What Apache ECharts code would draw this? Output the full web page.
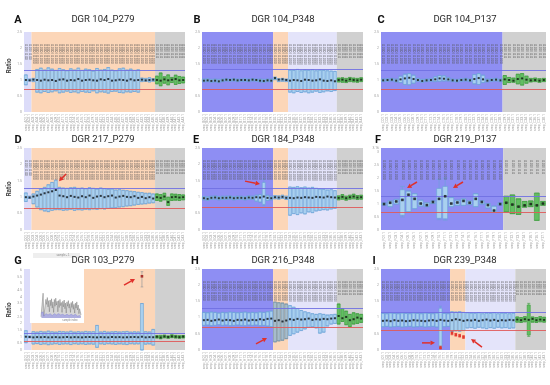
<!DOCTYPE html>
<html><head><meta charset="utf-8">
<script src="https://cdn.jsdelivr.net/npm/echarts@6/dist/echarts.min.js"></script>
<style>html,body{margin:0;padding:0;background:#fff}#c{width:550px;height:385px}</style>
</head><body><div id="c"></div>
<script>
// ---------------- DATA ----------------
const titles = ['DGR 104_P279','DGR 104_P348','DGR 104_P137','DGR 217_P279','DGR 184_P348','DGR 219_P137','DGR 103_P279','DGR 216_P348','DGR 239_P348'];
const letters = ['A','B','C','D','E','F','G','H','I'];
// region runs: lp = light purple, or = orange, bl = blue, lv = lavender, gr = gray
const A_regions = [['lp',2],['or',33],['gr',8]];
const B_regions = [['bl',19],['or',4],['lv',13],['gr',7]];
const C_regions = [['bl',28],['gr',10]];
const D_regions = [['lp',2],['or',33],['gr',8]];
const E_regions = [['bl',19],['or',4],['lv',13],['gr',7]];
const F_regions = [['bl',20],['gr',7]];
const G_regions = [['lp',2],['or',33],['gr',8]];
const H_regions = [['bl',19],['or',4],['lv',13],['gr',7]];
const I_regions = [['bl',18],['or',4],['lv',13],['gr',8]];

const A_med = [1.00,0.99, 1.01,1.00,0.98,1.01,0.99,1.00,0.97,1.01,1.02,0.98,1.00,0.99,1.03,0.98,1.00,1.01,0.99,0.98,1.02,1.00,1.03,0.98,0.99,1.01,1.00,0.98,1.02,0.99,1.00,1.01,0.99,1.00,1.01, 1.00,0.98,1.02,0.99,1.01,1.03,0.99,1.00];
const A_q3 = [1.16,1.03, 1.05,1.33,1.37,1.31,1.38,1.34,1.30,1.36,1.32,1.29,1.35,1.31,1.37,1.30,1.34,1.32,1.28,1.36,1.31,1.33,1.39,1.31,1.29,1.35,1.37,1.31,1.34,1.30,1.32,1.06,1.05,1.07,1.04, 1.12,1.22,1.10,1.16,1.08,1.15,1.11,1.09];
const A_q1 = [0.85,0.97, 0.95,0.62,0.60,0.64,0.61,0.63,0.66,0.60,0.62,0.65,0.61,0.63,0.60,0.64,0.62,0.61,0.66,0.60,0.63,0.62,0.59,0.64,0.65,0.61,0.60,0.63,0.62,0.64,0.62,0.95,0.96,0.94,0.96, 0.88,0.82,0.90,0.85,0.92,0.86,0.89,0.91];

const B_med = [0.98,0.99,0.97,0.98,0.96,0.99,1.01,1.00,1.01,0.99,1.00,1.00,0.99,1.01,1.00,0.98,0.97,0.99,0.98, 1.06,1.01,1.02,1.00, 0.98,1.00,0.99,0.97,1.01,1.00,0.98,0.99,1.02,0.98,0.97,0.99,0.96, 1.00,1.01,0.98,1.02,1.00,0.99,1.01];
const B_q3 = [1.03,1.04,1.02,1.03,1.02,1.03,1.04,1.03,1.04,1.03,1.03,1.04,1.03,1.04,1.03,1.03,1.02,1.03,1.03, 1.09,1.04,1.05,1.03, 1.31,1.30,1.33,1.29,1.31,1.30,1.32,1.29,1.31,1.30,1.29,1.28,1.27, 1.06,1.07,1.05,1.08,1.06,1.05,1.07];
const B_q1 = [0.94,0.95,0.93,0.94,0.92,0.95,0.97,0.96,0.97,0.95,0.96,0.96,0.95,0.97,0.96,0.94,0.93,0.95,0.94, 1.01,0.95,0.96,0.95, 0.62,0.60,0.64,0.61,0.63,0.60,0.62,0.65,0.61,0.63,0.66,0.64,0.67, 0.94,0.93,0.92,0.95,0.94,0.93,0.95];

const C_med = [0.99,1.00,1.01,0.98,1.02,1.05,1.07,1.03,1.00,0.97,0.99,1.00,1.02,1.05,1.04,1.02,0.99,0.98,1.00,1.01,0.99,1.03,1.06,1.02,0.98,1.00,1.01,0.99, 1.02,1.00,0.98,1.03,1.05,1.01,0.99,1.00,0.98,1.00];
const C_q3 = [1.03,1.04,1.05,1.03,1.12,1.18,1.20,1.15,1.05,1.02,1.03,1.04,1.10,1.14,1.13,1.08,1.03,1.02,1.04,1.05,1.03,1.17,1.20,1.15,1.03,1.04,1.05,1.03, 1.14,1.08,1.06,1.18,1.20,1.12,1.05,1.06,1.04,1.05];
const C_q1 = [0.95,0.96,0.97,0.94,0.92,0.86,0.85,0.90,0.96,0.93,0.95,0.96,0.95,0.96,0.97,0.97,0.95,0.94,0.96,0.97,0.95,0.88,0.86,0.92,0.94,0.96,0.97,0.95, 0.86,0.92,0.93,0.88,0.84,0.90,0.94,0.95,0.93,0.95];

const D_med = [1.00,0.99, 1.02,1.05,1.08,1.12,1.15,1.18,1.22,1.05,1.03,1.00,1.04,1.01,0.99,1.03,1.00,1.05,0.98,1.02,1.04,1.00,1.03,1.05,0.99,1.02,1.04,1.01,1.00,1.03,0.98,1.01,0.97,1.00,0.96, 1.00,0.98,1.02,0.85,1.00,1.01,0.99,1.00];
const D_q3 = [1.13,1.03, 1.10,1.18,1.25,1.30,1.38,1.45,1.52,1.30,1.28,1.27,1.29,1.30,1.27,1.28,1.26,1.29,1.27,1.25,1.28,1.26,1.24,1.25,1.22,1.23,1.21,1.20,1.18,1.17,1.15,1.14,1.12,1.12,1.10, 1.10,1.08,1.12,1.00,1.10,1.09,1.08,1.07];
const D_q1 = [0.87,0.96, 0.80,0.70,0.62,0.58,0.56,0.60,0.62,0.62,0.60,0.61,0.63,0.60,0.62,0.61,0.63,0.62,0.64,0.63,0.65,0.64,0.66,0.67,0.68,0.70,0.71,0.73,0.74,0.76,0.78,0.79,0.80,0.82,0.83, 0.90,0.88,0.92,0.75,0.90,0.91,0.90,0.92];

const E_med = [0.97,0.95,0.98,0.99,0.97,0.98,0.98,0.99,0.97,0.98,0.98,0.97,0.99,0.98,1.00,0.99,1.02,0.98,0.97, 1.00,0.99,1.01,0.98, 0.98,0.97,0.99,0.98,1.00,0.99,0.98,1.01,1.00,0.99,1.02,1.00,0.99, 0.98,1.01,0.97,1.00,1.02,0.99,1.00];
const E_q3 = [1.02,1.01,1.03,1.04,1.02,1.03,1.03,1.04,1.02,1.03,1.03,1.02,1.04,1.03,1.06,1.08,1.45,1.06,1.03, 1.05,1.04,1.06,1.03, 1.31,1.30,1.32,1.29,1.31,1.28,1.30,1.27,1.25,1.24,1.22,1.23,1.20, 1.04,1.08,1.03,1.06,1.09,1.05,1.06];
const E_q1 = [0.92,0.90,0.93,0.94,0.92,0.93,0.93,0.94,0.92,0.93,0.93,0.92,0.94,0.93,0.88,0.85,0.78,0.90,0.92, 0.95,0.94,0.96,0.93, 0.45,0.50,0.47,0.52,0.49,0.55,0.53,0.58,0.60,0.62,0.61,0.64,0.66, 0.92,0.94,0.91,0.94,0.95,0.93,0.94];

const F_med = [1.00,1.05,1.10,1.16,1.36,1.20,1.02,0.96,1.08,1.20,1.30,1.02,1.06,1.12,1.05,1.20,1.08,0.96,0.75,1.00, 1.05,0.98,0.90,0.95,1.00,0.95,1.02];
const F_q3 = [1.04,1.12,1.18,1.55,1.50,1.40,1.15,1.05,1.12,1.60,1.68,1.25,1.15,1.20,1.12,1.40,1.13,1.02,0.92,1.04, 1.30,1.35,1.20,1.10,1.12,1.42,1.10];
const F_q1 = [0.96,0.90,1.00,0.57,0.70,0.82,0.92,0.90,1.02,0.45,0.43,0.90,0.95,0.95,0.98,0.90,1.00,0.85,0.68,0.96, 0.70,0.63,0.60,0.88,0.90,0.37,0.95];

const G_med = [1.00,0.98, 0.95,0.97,0.96,0.98,0.95,0.96,0.97,0.95,0.96,0.98,0.95,0.97,0.96,0.95,0.97,0.98,0.96,0.95,0.97,0.96,0.95,0.98,0.96,0.97,0.95,0.96,0.97,0.98,0.96,1.00,0.95,0.97,0.96, 1.00,0.95,1.02,0.98,1.03,1.00,0.97,1.01];
const G_q3 = [1.45,1.05, 1.38,1.35,1.40,1.36,1.42,1.37,1.35,1.40,1.38,1.36,1.41,1.35,1.38,1.36,1.40,1.37,1.38,1.85,1.36,1.40,1.35,1.37,1.39,1.36,1.38,1.40,1.35,1.37,1.36,3.50,1.38,1.36,1.55, 1.08,1.10,1.12,1.06,1.14,1.10,1.08,1.09];
const G_q1 = [0.55,0.92, 0.45,0.48,0.42,0.46,0.40,0.44,0.47,0.42,0.45,0.46,0.41,0.47,0.44,0.46,0.42,0.45,0.44,0.20,0.46,0.43,0.47,0.45,0.42,0.46,0.44,0.41,0.47,0.45,0.46,0.00,0.44,0.46,0.37, 0.90,0.85,0.92,0.88,0.93,0.90,0.89,0.91];

const H_med = [0.92,0.93,0.90,0.92,0.94,0.91,0.93,0.92,0.90,0.93,0.92,0.94,0.91,0.93,0.92,0.95,0.93,0.96,0.97, 0.90,0.92,0.88,0.91, 0.95,0.93,0.96,0.94,0.95,0.97,0.93,0.95,0.94,0.96,0.95,0.97,0.98, 1.05,0.98,1.02,0.92,0.95,1.00,0.97];
const H_q3 = [1.16,1.15,1.17,1.16,1.14,1.16,1.15,1.17,1.16,1.15,1.16,1.17,1.15,1.16,1.15,1.17,1.16,1.18,1.20, 1.48,1.46,1.45,1.42, 1.37,1.32,1.28,1.22,1.18,1.15,1.12,1.10,1.12,1.10,1.08,1.09,1.10, 1.42,1.28,1.20,1.10,1.15,1.12,1.10];
const H_q1 = [0.76,0.77,0.75,0.76,0.78,0.76,0.77,0.75,0.76,0.77,0.76,0.75,0.77,0.76,0.77,0.75,0.76,0.74,0.72, 0.25,0.28,0.30,0.35, 0.45,0.50,0.55,0.60,0.65,0.70,0.72,0.68,0.52,0.55,0.74,0.80,0.82, 0.80,0.88,0.78,0.72,0.80,0.82,0.85];

const I_med = [0.90,0.91,0.89,0.92,0.90,0.91,0.89,0.90,0.92,0.91,0.90,0.89,0.91,0.92,0.90,0.93,0.91,0.90, 0.92,0.95,0.93,0.90, 0.92,0.91,0.93,0.90,0.92,0.94,0.91,0.93,0.90,0.92,0.91,0.93,0.92, 0.94,0.92,0.95,0.93,0.96,0.92,0.94,0.93];
const I_q3 = [1.13,1.12,1.14,1.13,1.12,1.14,1.13,1.12,1.14,1.13,1.12,1.14,1.13,1.12,1.14,1.29,1.13,1.12, 1.18,1.17,1.18,1.16, 1.15,1.14,1.13,1.15,1.12,1.14,1.13,1.15,1.12,1.14,1.13,1.12,1.14, 1.02,1.00,1.03,1.39,1.02,1.00,1.03,1.01];
const I_q1 = [0.72,0.73,0.71,0.72,0.73,0.71,0.72,0.73,0.71,0.72,0.73,0.71,0.72,0.73,0.71,0.10,0.72,0.73, 0.57,0.59,0.58,0.60, 0.68,0.69,0.67,0.70,0.68,0.66,0.69,0.67,0.70,0.68,0.69,0.67,0.68, 0.86,0.85,0.87,0.46,0.86,0.85,0.87,0.86];

// extended whiskers [category, low, high]
const E_whisk = [[16,0.74,1.55]];
const F_whisk = [[3,0.50,1.68],[9,0.40,1.95],[10,0.38,2.00]];
const I_whisk = [[15,0.06,1.35],[38,0.42,1.44]];
// flagged outlier samples [category, low, value, high]
const G_out = [[31,4.75,5.55,5.90]];
const I_out = [[15,0.03,0.07,0.12],[18,0.47,0.52,0.56],[19,0.43,0.47,0.51],[20,0.40,0.44,0.48],[21,0.36,0.40,0.44]];

const yMax = [2.5,2.5,2.5,2.5,2.5,3.16,6.1,2.5,2.5];
const upperLimit = [1.31,1.33,1.30,1.28,1.26,1.29,1.25,1.29,1.15];
const lowerLimit = [0.71,0.71,0.71,0.67,0.68,0.67,0.63,0.69,0.62];

const topLabelText = {lp:'0.00 | 0.00', or:'0.000 | 0.000', bl:'0.000 | 0.000', lv:'0.000 | 0.000 |', gr:'0.00 | 0.0'};

// inset (panel G) – sample-wise ratio trace
const insetTrace = [0.02,0.03,0.02,0.40,0.03,0.05,0.04, 0.30,0.22,0.33,0.18,0.28,0.10, 0.29,0.20,0.31,0.16,0.26,0.09, 0.30,0.19,0.32,0.21,0.27,0.10, 0.28,0.17,0.30,0.20,0.25,0.09, 0.27,0.18,0.29,0.15,0.24,0.08, 0.26,0.19,0.28,0.16,0.23,0.09, 0.25,0.17,0.27,0.14,0.22,0.08, 0.24,0.16,0.26,0.13,0.21,0.07, 0.15,0.10,0.05];
const insetBase = [0.08,0.06,0.07,0.10,0.03,0.04,0.03, 0.07,0.05,0.08,0.05,0.06,0.03, 0.07,0.05,0.08,0.04,0.06,0.03, 0.07,0.05,0.08,0.05,0.06,0.03, 0.07,0.04,0.07,0.05,0.06,0.03, 0.06,0.05,0.07,0.04,0.06,0.03, 0.06,0.05,0.07,0.04,0.05,0.03, 0.06,0.04,0.06,0.04,0.05,0.02, 0.06,0.04,0.06,0.03,0.05,0.02, 0.04,0.03,0.02];

// arrows in data space [panel, fromCat, fromVal, toCat, toVal]
const arrows = [[3,10.75,1.71,8.85,1.49],[4,10.98,1.49,14.99,1.40],[5,5.39,1.85,3.76,1.62],[5,12.92,1.85,11.28,1.62],[6,26.21,4.89,29.15,5.35],[7,13.92,0.19,16.86,0.37],[8,10.19,0.22,13.57,0.22],[8,25.82,0.09,22.96,0.34]];

// ---------------- LAYOUT / STYLE ----------------
const colLeft = [24,202,381], colWidth = [161,161,165];
const rowTop = [32,148,269], rowHeight = [80,82,81];
const titleX = [103,283,465];
const titleY = [20,140,261];
const letterX = [18,197,381,18,196,378,18,195,374];
const ratioY = [66,189,310];
const regionColor = {lp:'#dcdcf9', or:'#fcd6b8', bl:'#8e8ef3', lv:'#e4e4fa', gr:'#d0d0d0'};

const panels = [
 {key:'A', regions:A_regions, med:A_med, q1:A_q1, q3:A_q3, top:true},
 {key:'B', regions:B_regions, med:B_med, q1:B_q1, q3:B_q3, top:true},
 {key:'C', regions:C_regions, med:C_med, q1:C_q1, q3:C_q3, top:true},
 {key:'D', regions:D_regions, med:D_med, q1:D_q1, q3:D_q3, top:true},
 {key:'E', regions:E_regions, med:E_med, q1:E_q1, q3:E_q3, top:true, whisk:E_whisk},
 {key:'F', regions:F_regions, med:F_med, q1:F_q1, q3:F_q3, top:true, whisk:F_whisk},
 {key:'G', regions:G_regions, med:G_med, q1:G_q1, q3:G_q3, top:false, out:G_out, outColor:'#a8322d', outWhisker:'#999'},
 {key:'H', regions:H_regions, med:H_med, q1:H_q1, q3:H_q3, top:true},
 {key:'I', regions:I_regions, med:I_med, q1:I_q1, q3:I_q3, top:true, whisk:I_whisk, out:I_out, outColor:'#e2382f', outWhisker:'#e2382f'}
];

function expand(runs){ const o=[]; runs.forEach(([k,n])=>{ for(let j=0;j<n;j++) o.push(k); }); return o; }
function boxStyle(reg, key){
  if(reg==='gr') return {color:'#62be62', borderColor:'#3c9c3c', borderWidth:0.6};
  if(key==='H' && reg==='or') return {color:'#a6bccb', borderColor:'#6f8fa5', borderWidth:0.6};
  return {color:'#a9d0ef', borderColor:'#6aa3d6', borderWidth:0.6};
}

const option = {animation:false, textStyle:{fontFamily:'Roboto'}, grid:[], xAxis:[], yAxis:[], series:[], graphic:[]};
const topAxes = [], bandAxes = [];

panels.forEach((p,i)=>{
  const r = Math.floor(i/3), c = i%3;
  const reg = expand(p.regions);
  const n = reg.length;
  const cats = reg.map((_,k)=> p.key + String(k+1).padStart(2,'0'));
  const band = colWidth[c]/n;
  const bw = band*0.8;
  option.grid.push({left:colLeft[c], top:rowTop[r], width:colWidth[c], height:rowHeight[r]});
  option.xAxis.push({type:'category', gridIndex:i, data:cats, axisLine:{show:false}, axisTick:{show:false}, splitLine:{show:false},
    axisLabel:{rotate:90, interval:0, fontSize:3.4, color:'#9a9a9a', margin:2, formatter:(v)=>'smp_'+v+'.1'}});
  topAxes.push({type:'category', gridIndex:i, position:'top', data:cats, z:10, axisLine:{show:false}, axisTick:{show:false}, splitLine:{show:false},
    axisLabel:{show:p.top, inside:true, rotate:90, interval:0, fontSize:3.4, color:'#555', margin:12,
      formatter:(v,idx)=>topLabelText[reg[idx]]}});
  // hidden continuous axis spanning the category bands, used for the region shading
  bandAxes.push({type:'value', gridIndex:i, min:-0.5, max:n-0.5, show:false, splitLine:{show:false}});
  option.yAxis.push({type:'value', gridIndex:i, min:0, max:yMax[i], interval:0.5, splitLine:{show:false},
    axisLine:{show:false}, axisTick:{show:false}, axisLabel:{fontSize:3.4, color:'#9a9a9a', margin:2}});

  // region shading + threshold lines
  let start = 0;
  const areas = p.regions.map(([k,len])=>{
    const a = [{xAxis:start-0.5, itemStyle:{color:regionColor[k], opacity:1}}, {xAxis:start+len-0.5}];
    start += len; return a;
  });
  option.series.push({type:'line', xAxisIndex:19+i, yAxisIndex:i, silent:true, z:1, symbol:'none', data:[],
    markArea:{silent:true, data:areas},
    markLine:{silent:true, symbol:'none', label:{show:false}, animation:false,
      data:[{yAxis:upperLimit[i], lineStyle:{color:'#7070e2', width:0.9, type:'solid'}},
            {yAxis:lowerLimit[i], lineStyle:{color:'#e05a5a', width:0.9, type:'solid'}}]}});

  // boxes
  const wmap = {}; (p.whisk||[]).forEach(w=>{ wmap[w[0]] = w; });
  option.series.push({type:'boxplot', xAxisIndex:i, yAxisIndex:i, z:3, boxWidth:[bw,bw],
    data: reg.map((k,j)=>{
      const w = wmap[j];
      return {value:[w?w[1]:p.q1[j], p.q1[j], p.med[j], p.q3[j], w?w[2]:p.q3[j]], itemStyle:boxStyle(k,p.key)};
    })});

  // medians
  option.series.push({type:'scatter', xAxisIndex:i, yAxisIndex:i, z:5, symbol:'rect', symbolSize: n<30?2.6:2,
    itemStyle:{color:'#151515'}, data:p.med.map((v,j)=>[j,v])});

  // flagged samples
  if(p.out){
    const col = p.outColor, wcol = p.outWhisker;
    option.series.push({type:'custom', xAxisIndex:i, yAxisIndex:i, z:6, encode:{x:0, y:[1,2,3]}, data:p.out,
      renderItem:(params, api)=>{
        const x = api.value(0);
        const lo = api.coord([x, api.value(1)]), mid = api.coord([x, api.value(2)]), hi = api.coord([x, api.value(3)]);
        return {type:'group', children:[
          {type:'line', shape:{x1:lo[0],y1:lo[1],x2:hi[0],y2:hi[1]}, style:{stroke:wcol, lineWidth:0.7}},
          {type:'line', shape:{x1:lo[0]-1.3,y1:lo[1],x2:lo[0]+1.3,y2:lo[1]}, style:{stroke:wcol, lineWidth:0.7}},
          {type:'line', shape:{x1:hi[0]-1.3,y1:hi[1],x2:hi[0]+1.3,y2:hi[1]}, style:{stroke:wcol, lineWidth:0.7}},
          {type:'rect', shape:{x:mid[0]-1.3,y:mid[1]-1.3,width:2.6,height:2.6}, style:{fill:col}}
        ]};
      }});
  }

  // texts
  option.graphic.push({type:'text', x:titleX[c], y:titleY[r], z:50, style:{text:titles[i], fontFamily:'Roboto', fontSize:9.5, fill:'#2a2a2a', align:'center', verticalAlign:'middle'}});
  option.graphic.push({type:'text', x:letterX[i], y:titleY[r], z:50, style:{text:letters[i], fontFamily:'Roboto', fontWeight:'bold', fontSize:11, fill:'#111', align:'center', verticalAlign:'middle'}});
  if(c===0) option.graphic.push({type:'text', x:9, y:ratioY[r], rotation:Math.PI/2, z:50, style:{text:'Ratio', fontFamily:'Roboto', fontWeight:'bold', fontSize:6.5, fill:'#444', align:'center', verticalAlign:'middle'}});
});
topAxes.forEach(a=>option.xAxis.push(a));   // indices 9..17

// ---- inset in panel G ----
option.graphic.push({type:'rect', x:30, y:253, z:20, shape:{width:54, height:70}, style:{fill:'#ffffff'}});
option.graphic.push({type:'rect', x:33, y:253, z:20, shape:{width:47, height:5}, style:{fill:'#eeeeee'}});
option.graphic.push({type:'text', x:63, y:255.5, z:21, style:{text:'sample ▪ 1', fontSize:2.8, fill:'#888', align:'center', verticalAlign:'middle'}});
option.graphic.push({type:'text', x:70, y:320.5, z:21, style:{text:'sample index', fontSize:2.6, fill:'#888', align:'center', verticalAlign:'middle'}});
option.grid.push({left:41, top:256, width:40, height:62});
const insetCats = insetTrace.map((_,k)=>String(k));
option.xAxis.push({type:'category', gridIndex:9, data:insetCats, boundaryGap:false, axisLine:{lineStyle:{color:'#bbb', width:0.5}}, axisTick:{show:false}, axisLabel:{show:false}, splitLine:{show:false}}); // index 18
option.yAxis.push({type:'value', gridIndex:9, min:0, max:1, show:false});
bandAxes.forEach(a=>option.xAxis.push(a));  // indices 19..27
option.series.push({type:'line', xAxisIndex:18, yAxisIndex:9, z:30, symbol:'none', data:insetTrace,
  lineStyle:{color:'#7a7a7a', width:0.5}, areaStyle:{color:'#c4c4c4'},
  markLine:{silent:true, symbol:'none', label:{show:false}, data:[{xAxis:'39'}], lineStyle:{color:'#8080dd', width:0.6, type:'solid'}}});
option.series.push({type:'line', xAxisIndex:18, yAxisIndex:9, z:31, symbol:'none', data:insetBase,
  lineStyle:{color:'#7b7bd6', width:0.4}, areaStyle:{color:'#9c9ce4'}});

const chart = echarts.init(document.getElementById('c'), null, {renderer:'canvas'});
chart.setOption(option);

// arrows (anchored to data coordinates)
const arrowGraphics = [];
arrows.forEach(([pi, c0, v0, c1, v1])=>{
  const a = chart.convertToPixel({xAxisIndex:19+pi, yAxisIndex:pi}, [c0, v0]);
  const b = chart.convertToPixel({xAxisIndex:19+pi, yAxisIndex:pi}, [c1, v1]);
  if(!a || !b) return;
  const dx = b[0]-a[0], dy = b[1]-a[1], L = Math.hypot(dx,dy), ux = dx/L, uy = dy/L;
  const hl = 4.5, hw = 2.4;
  const bx = b[0]-ux*hl, by = b[1]-uy*hl;
  arrowGraphics.push({type:'line', z:60, shape:{x1:a[0], y1:a[1], x2:bx, y2:by}, style:{stroke:'#e0302a', lineWidth:1.5}});
  arrowGraphics.push({type:'polygon', z:60, shape:{points:[[b[0],b[1]],[bx-uy*hw, by+ux*hw],[bx+uy*hw, by-ux*hw]]}, style:{fill:'#e0302a'}});
});
chart.setOption({graphic: option.graphic.concat(arrowGraphics)});
</script></body></html>
